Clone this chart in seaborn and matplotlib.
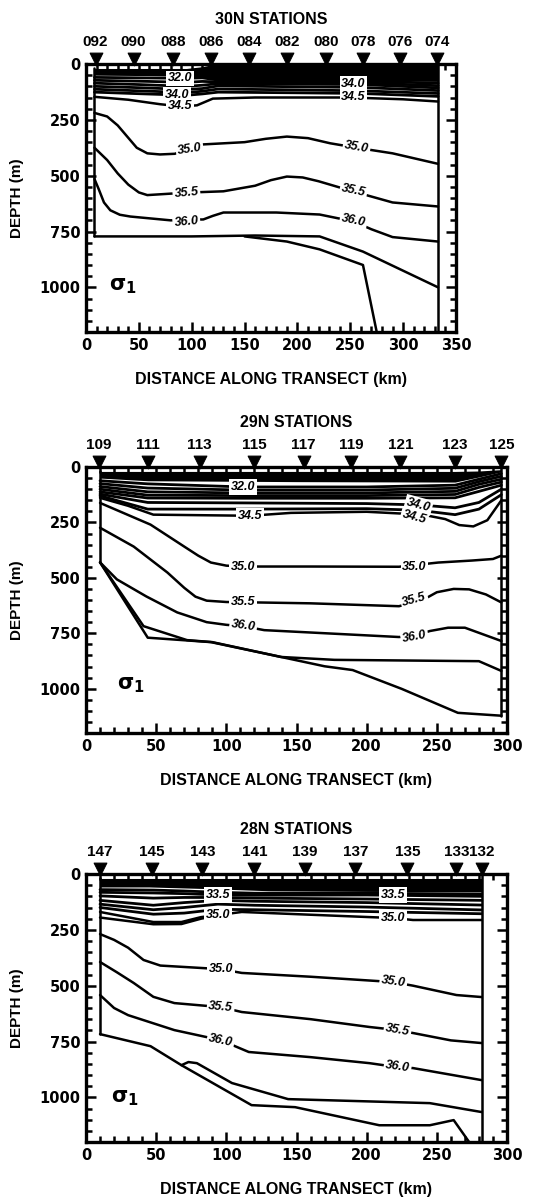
import pandas as pd
import seaborn as sns
import matplotlib.pyplot as plt
from matplotlib.ticker import MultipleLocator

# ---------------- 30N section ----------------
st30_names = ['092', '090', '088', '086', '084', '082', '080', '078', '076', '074']
st30_km = [9, 45, 82, 118, 154, 190, 227, 262, 297, 332]

s30_band_km = [8, 60, 95, 110, 122, 200, 333]
s30_band_top = [20, 20, 20, 12, 0, 0, 0]
s30_band_bot = [50, 52, 55, 58, 70, 72, 78]

s30_up_km = [8, 50, 95, 110, 125, 200, 260, 333]
s30_u1 = [60, 62, 64, 62, 72, 74, 76, 86]
s30_u2 = [73, 77, 82, 78, 80, 82, 84, 97]
s30_u3 = [86, 92, 100, 95, 88, 90, 92, 107]
s30_u4 = [100, 106, 114, 110, 98, 102, 105, 119]
s30_u5 = [113, 120, 128, 122, 112, 116, 120, 132]
s30_u6 = [126, 133, 140, 134, 126, 129, 132, 145]

s30_c345_km = [8, 40, 70, 90, 105, 120, 160, 250, 300, 333]
s30_c345_z = [147, 160, 180, 190, 185, 155, 150, 150, 158, 168]
s30_c350_km = [8, 20, 30, 39, 48, 58, 70, 84, 111, 150, 170, 190, 210, 231, 256, 290, 333]
s30_c350_z = [219, 235, 275, 325, 375, 400, 405, 402, 360, 350, 335, 325, 332, 355, 375, 400, 447]
s30_c355_km = [8, 20, 30, 40, 50, 58, 75, 95, 130, 160, 175, 190, 205, 220, 253, 290, 333]
s30_c355_z = [375, 430, 490, 540, 575, 587, 582, 576, 570, 545, 520, 504, 508, 525, 571, 620, 638]
s30_c360_km = [8, 12, 17, 23, 32, 42, 80, 111, 120, 130, 180, 221, 253, 270, 290, 333]
s30_c360_z = [515, 560, 620, 655, 675, 683, 700, 696, 680, 665, 665, 674, 705, 740, 775, 795]
s30_bota_km = [8, 100, 160, 221, 262, 333]
s30_bota_z = [772, 772, 768, 772, 840, 1000]
s30_botb_km = [150, 190, 221, 262, 275]
s30_botb_z = [772, 795, 830, 900, 1200]
s30_wall_km = [[8, 8], [333, 333]]
s30_wall_z = [[20, 772], [0, 1200]]

s30_lab_txt = ['32.0', '34.0', '34.5', '34.0', '34.5', '35.0', '35.0', '35.5', '35.5', '36.0', '36.0']
s30_lab_km = [89, 86, 89, 253, 253, 98, 256, 95, 253, 95, 253]
s30_lab_z = [64, 138, 188, 90, 150, 382, 372, 578, 568, 708, 703]
s30_lab_rot = [0, 0, 0, 0, 0, 8, -10, 5, -12, 5, -12]

# ---------------- 29N section ----------------
st29_names = ['109', '111', '113', '115', '117', '119', '121', '123', '125']
st29_km = [9, 44, 81, 120, 155, 189, 224, 263, 296]

s29_band_km = [10, 44, 150, 263, 280, 296]
s29_band_top = [20, 20, 20, 20, 18, 12]
s29_band_bot = [50, 62, 66, 68, 45, 22]

s29_up_km = [10, 44, 112, 200, 263, 280, 296]
s29_u1 = [62, 76, 90, 90, 82, 55, 30]
s29_u2 = [75, 95, 104, 104, 96, 66, 42]
s29_u3 = [88, 112, 117, 117, 110, 78, 55]
s29_u4 = [100, 127, 129, 129, 124, 92, 68]
s29_u5 = [112, 140, 141, 141, 139, 110, 82]

s29_c340_km = [10, 44, 112, 200, 237, 263, 280, 296]
s29_c340_z = [122, 160, 162, 165, 171, 184, 160, 100]
s29_c342_km = [10, 44, 112, 200, 237, 263, 280, 296]
s29_c342_z = [130, 190, 190, 188, 195, 215, 190, 125]
s29_c345_km = [10, 30, 48, 117, 146, 200, 240, 256, 266, 276, 286, 296]
s29_c345_z = [139, 175, 215, 220, 207, 202, 215, 235, 262, 268, 240, 150]
s29_c350_km = [10, 46, 70, 80, 89, 100, 112, 160, 223, 251, 275, 290, 296]
s29_c350_z = [162, 260, 359, 400, 431, 445, 449, 449, 450, 431, 422, 415, 400]
s29_c355_km = [10, 34, 58, 70, 78, 86, 100, 112, 160, 223, 240, 250, 262, 273, 285, 296]
s29_c355_z = [274, 359, 476, 545, 585, 603, 609, 610, 615, 628, 600, 565, 550, 552, 575, 611]
s29_c360_km = [10, 22, 43, 65, 86, 100, 112, 127, 223, 234, 245, 258, 270, 283, 296]
s29_c360_z = [430, 507, 584, 656, 700, 712, 718, 736, 767, 762, 740, 725, 725, 755, 785]
s29_bota_km = [10, 44, 89, 139, 170, 190, 225, 265, 296]
s29_bota_z = [430, 770, 790, 857, 899, 916, 1001, 1109, 1122]
s29_botb_km = [10, 41, 72, 90, 139, 177, 280, 296]
s29_botb_z = [430, 718, 781, 790, 857, 870, 876, 920]
s29_wall_km = [[10, 10], [296, 296]]
s29_wall_z = [[20, 430], [0, 1122]]

s29_lab_txt = ['32.0', '34.5', '34.0', '34.5', '35.0', '35.0', '35.5', '35.5', '36.0', '36.0']
s29_lab_km = [112, 117, 237, 234, 112, 234, 112, 234, 112, 234]
s29_lab_z = [90, 220, 171, 226, 449, 452, 610, 600, 718, 765]
s29_lab_rot = [0, 0, -15, -15, 0, 0, 0, 15, -8, 10]

# ---------------- 28N section ----------------
st28_names = ['147', '145', '143', '141', '139', '137', '135', '133', '132']
st28_km = [10, 47, 83, 120, 156, 192, 229, 264, 282]

s28_band_km = [10, 45, 90, 130, 200, 282]
s28_band_top = [20, 20, 20, 20, 20, 20]
s28_band_bot = [58, 58, 66, 75, 78, 80]

s28_up_km = [10, 48, 70, 94, 120, 200, 282]
s28_u1 = [70, 72, 76, 82, 86, 86, 90]
s28_u2 = [82, 85, 88, 94, 95, 94, 100]
s28_u3 = [98, 108, 105, 105, 108, 112, 118]
s28_u4 = [118, 140, 128, 118, 122, 128, 139]
s28_u5 = [135, 160, 150, 135, 140, 148, 161]
s28_u6 = [150, 180, 175, 158, 160, 168, 178]

s28_c350a_km = [10, 48, 68, 82, 94, 111, 202, 219, 233, 282]
s28_c350a_z = [170, 215, 215, 193, 184, 170, 193, 197, 206, 206]
s28_c350b_km = [10, 48, 68, 82, 94]
s28_c350b_z = [195, 225, 224, 200, 186]
s28_c350_km = [10, 20, 30, 41, 53, 80, 96, 111, 160, 207, 219, 233, 264, 282]
s28_c350_z = [269, 295, 330, 385, 410, 420, 426, 443, 460, 479, 484, 500, 542, 551]
s28_c355_km = [10, 22, 34, 48, 63, 96, 111, 160, 202, 222, 233, 260, 282]
s28_c355_z = [394, 440, 488, 550, 578, 596, 618, 650, 685, 699, 712, 745, 757]
s28_c360_km = [10, 20, 30, 63, 96, 116, 160, 202, 222, 233, 282]
s28_c360_z = [542, 600, 632, 699, 744, 797, 820, 847, 865, 869, 923]
s28_bota_km = [10, 46, 68, 118, 149, 209, 245, 262, 273]
s28_bota_z = [717, 771, 856, 1035, 1044, 1125, 1125, 1102, 1200]
s28_botb_km = [68, 73, 79, 104, 144, 245, 282]
s28_botb_z = [856, 842, 847, 936, 1008, 1026, 1066]
s28_wall_km = [[10, 10], [282, 282]]
s28_wall_z = [[20, 717], [0, 1200]]

s28_lab_txt = ['33.5', '33.5', '35.0', '35.0', '35.0', '35.0', '35.5', '35.5', '36.0', '36.0']
s28_lab_km = [94, 219, 94, 219, 96, 219, 96, 222, 96, 222]
s28_lab_z = [94, 94, 184, 197, 426, 484, 596, 699, 744, 865]
s28_lab_rot = [0, 0, 0, 0, 0, -8, -5, -10, -12, -8]


def long_form(pairs):
    # pairs of (km list, depth list) -> one long table for seaborn
    rows = []
    for i, (km, z) in enumerate(pairs):
        rows.append(pd.DataFrame({'km': km, 'z': z, 'line': i}))
    return pd.concat(rows, ignore_index=True)


sns.set_style("ticks")
plt.rcParams['font.family'] = ['DejaVu Sans']
plt.rcParams['font.weight'] = 'bold'
plt.rcParams['axes.linewidth'] = 2.2
plt.rcParams['text.color'] = 'black'
plt.rcParams['axes.labelcolor'] = 'black'

fig = plt.figure(figsize=(5.59, 11.97), dpi=100)
W, H = 559.0, 1197.0
boxes = [(86, 456, 64, 332), (86, 507, 467, 733), (86, 507, 874, 1142)]

panels = [
    dict(title='30N STATIONS', xmax=350, st=st30_names, stkm=st30_km,
         band=(s30_band_km, s30_band_top, s30_band_bot),
         upper=[(s30_up_km, s30_u1), (s30_up_km, s30_u2), (s30_up_km, s30_u3),
                (s30_up_km, s30_u4), (s30_up_km, s30_u5), (s30_up_km, s30_u6)],
         lines=[(s30_c345_km, s30_c345_z), (s30_c350_km, s30_c350_z),
                (s30_c355_km, s30_c355_z), (s30_c360_km, s30_c360_z),
                (s30_bota_km, s30_bota_z), (s30_botb_km, s30_botb_z),
                (s30_wall_km[0], s30_wall_z[0]), (s30_wall_km[1], s30_wall_z[1])],
         labels=(s30_lab_txt, s30_lab_km, s30_lab_z, s30_lab_rot), sigma=(22, 995)),
    dict(title='29N STATIONS', xmax=300, st=st29_names, stkm=st29_km,
         band=(s29_band_km, s29_band_top, s29_band_bot),
         upper=[(s29_up_km, s29_u1), (s29_up_km, s29_u2), (s29_up_km, s29_u3),
                (s29_up_km, s29_u4), (s29_up_km, s29_u5),
                (s29_c340_km, s29_c340_z), (s29_c342_km, s29_c342_z)],
         lines=[(s29_c345_km, s29_c345_z), (s29_c350_km, s29_c350_z),
                (s29_c355_km, s29_c355_z), (s29_c360_km, s29_c360_z),
                (s29_bota_km, s29_bota_z), (s29_botb_km, s29_botb_z),
                (s29_wall_km[0], s29_wall_z[0]), (s29_wall_km[1], s29_wall_z[1])],
         labels=(s29_lab_txt, s29_lab_km, s29_lab_z, s29_lab_rot), sigma=(22, 985)),
    dict(title='28N STATIONS', xmax=300, st=st28_names, stkm=st28_km,
         band=(s28_band_km, s28_band_top, s28_band_bot),
         upper=[(s28_up_km, s28_u1), (s28_up_km, s28_u2), (s28_up_km, s28_u3),
                (s28_up_km, s28_u4), (s28_up_km, s28_u5), (s28_up_km, s28_u6)],
         lines=[(s28_c350a_km, s28_c350a_z), (s28_c350b_km, s28_c350b_z),
                (s28_c350_km, s28_c350_z), (s28_c355_km, s28_c355_z),
                (s28_c360_km, s28_c360_z),
                (s28_bota_km, s28_bota_z), (s28_botb_km, s28_botb_z),
                (s28_wall_km[0], s28_wall_z[0]), (s28_wall_km[1], s28_wall_z[1])],
         labels=(s28_lab_txt, s28_lab_km, s28_lab_z, s28_lab_rot), sigma=(18, 1003)),
]

for (l, r, t, b), p in zip(boxes, panels):
    ax = fig.add_axes([l / W, 1 - b / H, (r - l) / W, (b - t) / H])

    bk, btop, bbot = p['band']
    ax.fill_between(bk, btop, bbot, color='black', lw=0, zorder=2)

    # dense near-surface isopycnals, a bit heavier
    sns.lineplot(data=long_form(p['upper']), x='km', y='z', units='line', estimator=None,
                 sort=False, color='black', lw=2.0, legend=False, ax=ax, zorder=3)
    sns.lineplot(data=long_form(p['lines']), x='km', y='z', units='line', estimator=None,
                 sort=False, color='black', lw=1.8, legend=False, ax=ax, zorder=3)

    txt, lk, lz, lr = p['labels']
    for s, x, z, rot in zip(txt, lk, lz, lr):
        ax.text(x, z, s, fontsize=9, family='Liberation Sans', fontweight='bold',
                style='italic', ha='center', va='center', rotation=rot, zorder=5,
                bbox=dict(fc='white', ec='none', pad=1.2))

    # station markers above the frame
    sns.scatterplot(x=p['stkm'], y=[-22] * len(p['stkm']), marker='v', s=85,
                    color='black', edgecolor='black', clip_on=False, ax=ax, zorder=6)
    for name, x in zip(p['st'], p['stkm']):
        ax.text(x, -97, name, fontsize=11, family='Liberation Sans', fontweight='bold',
                ha='center', va='center')
    ax.text(p['xmax'] / 2, -200, p['title'], fontsize=11.5, family='Liberation Sans',
            fontweight='bold', ha='center', va='center')

    ax.text(p['sigma'][0], p['sigma'][1], r'$\mathregular{\sigma_1}$', fontsize=15,
            ha='left', va='center')

    ax.set_xlim(0, p['xmax'])
    ax.set_ylim(1200, 0)
    ax.xaxis.set_major_locator(MultipleLocator(50))
    ax.xaxis.set_minor_locator(MultipleLocator(10))
    ax.yaxis.set_minor_locator(MultipleLocator(50))
    ax.set_yticks([0, 250, 500, 750, 1000])
    ax.tick_params(which='both', direction='in', top=True, right=True,
                   labeltop=False, labelright=False, width=1.8, colors='black')
    ax.tick_params(which='major', length=7.5, labelsize=10.5, pad=4)
    ax.tick_params(which='minor', length=4.5)
    for lab in ax.get_xticklabels() + ax.get_yticklabels():
        lab.set_fontweight('bold')
    ax.set_xlabel('DISTANCE ALONG TRANSECT (km)', fontsize=11.5, family='Liberation Sans',
                  fontweight='bold', labelpad=14)
    ax.set_ylabel('DEPTH (m)', fontsize=11, family='Liberation Sans',
                  fontweight='bold', labelpad=11)
    for sp in ax.spines.values():
        sp.set_linewidth(2.4)
        sp.set_color('black')

fig.savefig('out.png', dpi=100)
